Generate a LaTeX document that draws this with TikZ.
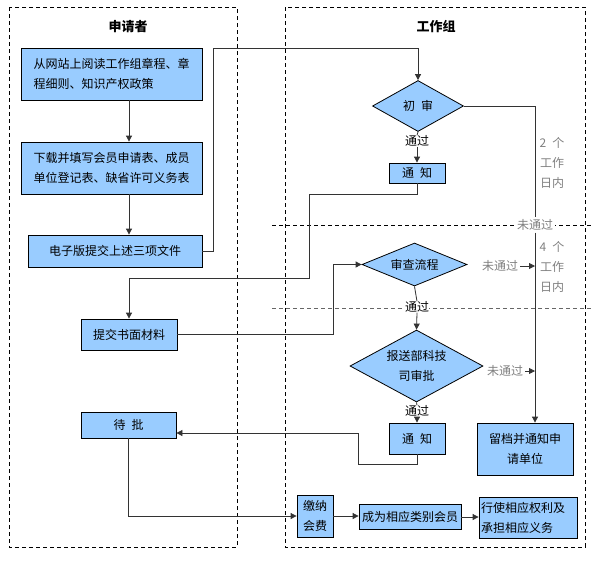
\documentclass[tikz,border=0pt]{standalone}
\usepackage{fontspec}
\newfontfamily\cjk{Noto Sans CJK SC}
\usetikzlibrary{shapes.geometric,arrows.meta}
\definecolor{boxblue}{RGB}{153,204,255}
\definecolor{notegray}{RGB}{128,128,128}

\tikzstyle{lane} = [draw=black, dash pattern=on 4pt off 3pt, line width=0.8pt]
\tikzstyle{procbox} = [rectangle, draw=black, line width=0.8pt, fill=boxblue, inner sep=2pt, align=center, font=\cjk\fontsize{12}{20.5}\selectfont]
\tikzstyle{decision} = [diamond, draw=black, line width=0.8pt, fill=boxblue, aspect=1.8, inner sep=0pt, align=center, font=\cjk\fontsize{12}{20.5}\selectfont]
\tikzstyle{title} = [font=\cjk\fontsize{13}{15}\selectfont\bfseries]
\tikzstyle{pass} = [fill=white, inner sep=0pt, font=\cjk\fontsize{12}{14}\selectfont]
\tikzstyle{fail} = [fill=white, inner sep=2pt, text=notegray, font=\cjk\fontsize{12}{14}\selectfont]
\tikzstyle{days} = [text=notegray, align=center, font=\cjk\fontsize{12}{20}\selectfont]
\tikzstyle{flow} = [draw=black!80, line width=0.8pt]
\tikzstyle{flowarrow} = [flow, -{Triangle[length=6pt,width=6pt]}]

\begin{document}
\begin{tikzpicture}[x=1pt,y=-1pt]
      \useasboundingbox (0,0) rectangle (593,560);
      % swim lanes
      \draw[lane] (9,7) rectangle (237,547);
      \draw[lane] (285,7) rectangle (585,547);
      \draw[lane] (272,225) -- (593,225);
      \draw[lane, draw=black!60] (272,308) -- (593,308);
      \node[title] (applicant) at (128,27) {申请者};
      \node[title] (group) at (436,27) {工作组};
      \node[procbox, minimum width=181pt, minimum height=52pt, align=left] (read) at (111.5,74) {从网站上阅读工作组章程、章\\程细则、知识产权政策};
      \node[procbox, minimum width=181pt, minimum height=52pt] (forms) at (111.5,168) {下载并填写会员申请表、成员\\单位登记表、缺省许可义务表};
      \node[procbox, minimum width=174pt, minimum height=32pt] (submit) at (115,251) {电子版提交上述三项文件};
      \node[procbox, minimum width=96pt, minimum height=31pt] (paper) at (129,334.5) {提交书面材料};
      \node[procbox, minimum width=95pt, minimum height=26pt] (wait) at (128.5,425) {待\enspace 批};
      \node[decision, minimum width=91pt, minimum height=51pt] (first) at (418,106) {初\enspace 审};
      \node[pass] (pass1) at (417,141) {通过};
      \node[procbox, minimum width=56pt, minimum height=20pt] (notify1) at (417,173) {通\enspace 知};
      \node[decision, minimum width=105pt, minimum height=43pt] (review) at (414.5,264.5) {审查流程};
      \node[pass] (pass2) at (417,307) {通过};
      \node[decision, minimum width=133pt, minimum height=72pt] (ministry) at (416.5,366) {报送部科技\\司审批};
      \node[pass] (pass3) at (417,411) {通过};
      \node[procbox, minimum width=56pt, minimum height=31pt] (notify2) at (417,438.5) {通\enspace 知};
      \node[procbox, minimum width=96pt, minimum height=52pt] (archive) at (525,449) {留档并通知申\\请单位};
      \node[procbox, minimum width=36pt, minimum height=42pt] (fee) at (315,516) {缴纳\\会费};
      \node[procbox, minimum width=102pt, minimum height=25pt] (member) at (410,517) {成为相应类别会员};
      \node[procbox, text width=94pt, align=left, minimum height=41pt] (rights) at (528,518) {行使相应权利及\\承担相应义务};
      \node[days] (days2) at (552,163) {2\enspace 个\\工作\\日内};
      \node[days] (days4) at (552,267) {4\enspace 个\\工作\\日内};
      \node[fail] (fail1) at (535,225) {未通过};
      \node[fail] (fail2) at (500,266) {未通过};
      \node[fail] (fail3) at (505,371) {未通过};
      \coordinate (up) at (213,48);
      \coordinate (back1) at (309,194);
      \coordinate (back2) at (309,278);
      \coordinate (fwd) at (333,264.5);
      \coordinate (back3) at (358,464);
      \coordinate (back4) at (358,433);
      \draw[flowarrow] (read.south -| paper.north) -- (forms.north -| paper.north);
      \draw[flowarrow] (forms.south -| paper.north) -- (submit.north -| paper.north);
      \draw[flowarrow] (submit.east) -| (up) -| (first.north);
      \draw[flow] (first.south) -- (pass1.north);
      \draw[flowarrow] (pass1.south) -- (notify1.north);
      \draw[flowarrow] (notify1.south) |- (back1) -- (back2) -| (paper.north);
      \draw[flowarrow] (paper.east) -| (fwd) -- (review.west);
      \draw[flow] (review.south) -- (pass2.north);
      \draw[flowarrow] (pass2.south) -- (ministry.north);
      \draw[flow] (ministry.south) -- (pass3.north);
      \draw[flowarrow] (pass3.south) -- (notify2.north);
      \draw[flowarrow] (notify2.south) |- (back3) -- (back4) -- (back4 -| wait.east);
      \draw[flowarrow] (wait.south) |- (fee.west);
      \draw[flowarrow] (fee.east) -- (fee.east -| member.west);
      \draw[flowarrow] (member.east) -- (member.east -| rights.west);
      % right hand side, not passed
      \draw[flow] (first.east) -| (fail1.north);
      \draw[flowarrow] (fail1.south) -- (fail1.south |- archive.north);
      \draw[flowarrow] (fail2.east) -- (fail2.east -| fail1.south);
      \draw[flowarrow] (fail3.east) -- (fail3.east -| fail1.south);
\end{tikzpicture}
\end{document}
